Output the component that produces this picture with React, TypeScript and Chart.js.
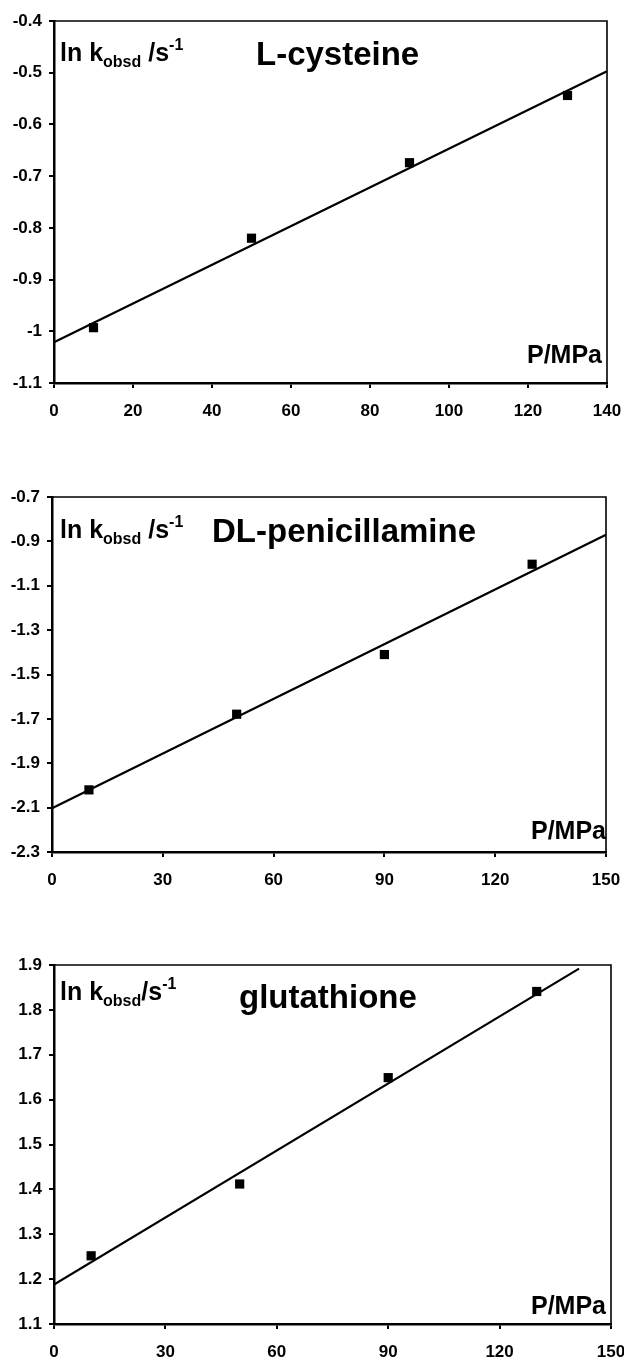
import React, { useEffect, useRef } from 'react';
import { Chart, registerables } from 'chart.js';

Chart.register(...registerables);

// ---- Data ----
const pressureMPa = [10, 50, 90, 130];

const cysteineLnK = [-0.993, -0.82, -0.674, -0.544];
const penicillamineLnK = [-2.02, -1.679, -1.41, -1.003];
const glutathioneLnK = [1.252, 1.412, 1.649, 1.841];

// fitted straight lines (end points)
const cysteineFitP = [0, 140];
const cysteineFitLnK = [-1.021, -0.497];
const penicillamineFitP = [0, 150];
const penicillamineFitLnK = [-2.103, -0.87];
const glutathioneFitP = [0, 141.4];
const glutathioneFitLnK = [1.188, 1.892];

// tick labels
const cysteineXTicks = [0, 20, 40, 60, 80, 100, 120, 140];
const cysteineYTicks = [-1.1, -1, -0.9, -0.8, -0.7, -0.6, -0.5, -0.4];
const penicillamineXTicks = [0, 30, 60, 90, 120, 150];
const penicillamineYTicks = [-2.3, -2.1, -1.9, -1.7, -1.5, -1.3, -1.1, -0.9, -0.7];
const glutathioneXTicks = [0, 30, 60, 90, 120, 150];
const glutathioneYTicks = [1.1, 1.2, 1.3, 1.4, 1.5, 1.6, 1.7, 1.8, 1.9];

const titles = ['L-cysteine', 'DL-penicillamine', 'glutathione'];

const FONT = '"Liberation Sans", Arial, Helvetica, sans-serif';
const CANVAS_W = 660;

type Run = { text: string; size: number; dy?: number };
type TextItem = { x: number; y: number; runs: Run[] };

interface PanelCfg {
  top: number; // page y of plot top
  bottom: number; // page y of plot bottom
  left: number;
  right: number;
  xTicks: number[];
  yTicks: number[];
  values: number[];
  fitP: number[];
  fitLnK: number[];
  texts: TextItem[];
}

const ylabRuns = (space: boolean): Run[] => [
  { text: 'ln k', size: 25 },
  { text: 'obsd', size: 16, dy: 6 },
  { text: space ? ' /s' : '/s', size: 25 },
  { text: '-1', size: 16, dy: -11 },
];

const panels: PanelCfg[] = [
  {
    top: 21, bottom: 383, left: 54, right: 607,
    xTicks: cysteineXTicks, yTicks: cysteineYTicks,
    values: cysteineLnK, fitP: cysteineFitP, fitLnK: cysteineFitLnK,
    texts: [
      { x: 60, y: 61, runs: ylabRuns(true) },
      { x: 256, y: 65, runs: [{ text: titles[0], size: 33 }] },
      { x: 527, y: 363, runs: [{ text: 'P/MPa', size: 25 }] },
    ],
  },
  {
    top: 497, bottom: 852, left: 52, right: 606,
    xTicks: penicillamineXTicks, yTicks: penicillamineYTicks,
    values: penicillamineLnK, fitP: penicillamineFitP, fitLnK: penicillamineFitLnK,
    texts: [
      { x: 60, y: 538, runs: ylabRuns(true) },
      { x: 212, y: 542, runs: [{ text: titles[1], size: 33 }] },
      { x: 531, y: 839, runs: [{ text: 'P/MPa', size: 25 }] },
    ],
  },
  {
    top: 965, bottom: 1324, left: 54, right: 611,
    xTicks: glutathioneXTicks, yTicks: glutathioneYTicks,
    values: glutathioneLnK, fitP: glutathioneFitP, fitLnK: glutathioneFitLnK,
    texts: [
      { x: 60, y: 1000, runs: ylabRuns(false) },
      { x: 239, y: 1008, runs: [{ text: titles[2], size: 33 }] },
      { x: 531, y: 1314, runs: [{ text: 'P/MPa', size: 25 }] },
    ],
  },
];

const PAD_TOP = 21;
const X_AXIS_H = 40;

const decorPlugin = {
  id: 'decor',
  afterDatasetsDraw(chart: any, _args: any, opts: any) {
    const { ctx, chartArea: a } = chart;
    ctx.save();
    ctx.strokeStyle = '#000';
    ctx.lineWidth = 1.6;
    ctx.beginPath();
    ctx.moveTo(a.left, a.top);
    ctx.lineTo(a.right, a.top);
    ctx.lineTo(a.right, a.bottom);
    ctx.stroke();
    ctx.fillStyle = '#000';
    ctx.textBaseline = 'alphabetic';
    ctx.textAlign = 'left';
    const offY: number = opts.offsetY || 0;
    for (const item of (opts.texts || []) as TextItem[]) {
      let cx = item.x;
      for (const r of item.runs) {
        ctx.font = `bold ${r.size}px ${FONT}`;
        ctx.fillText(r.text, cx, item.y - offY + (r.dy || 0));
        cx += ctx.measureText(r.text).width;
      }
    }
    ctx.restore();
  },
};

function Panel({ cfg }: { cfg: PanelCfg }) {
  const ref = useRef<HTMLCanvasElement>(null);
  const canvasTop = cfg.top - PAD_TOP;
  const canvasH = PAD_TOP + (cfg.bottom - cfg.top) + X_AXIS_H;

  useEffect(() => {
    if (!ref.current) return;
    const xT = cfg.xTicks;
    const yT = cfg.yTicks;
    const chart = new Chart(ref.current, {
      type: 'scatter',
      data: {
        datasets: [
          {
            data: pressureMPa.map((p, i) => ({ x: p, y: cfg.values[i] })),
            pointStyle: 'rect',
            pointRadius: 6.5,
            pointBackgroundColor: '#000',
            pointBorderColor: '#000',
            pointBorderWidth: 0,
            showLine: false,
          },
          {
            data: cfg.fitP.map((p, i) => ({ x: p, y: cfg.fitLnK[i] })),
            showLine: true,
            borderColor: '#000',
            borderWidth: 2.2,
            pointRadius: 0,
            fill: false,
          },
        ],
      },
      options: {
        responsive: false,
        animation: false,
        events: [],
        layout: {
          padding: { top: PAD_TOP, left: 0, right: CANVAS_W - cfg.right, bottom: 0 },
        },
        plugins: {
          legend: { display: false },
          tooltip: { enabled: false },
          decor: { texts: cfg.texts, offsetY: canvasTop },
        } as any,
        scales: {
          x: {
            type: 'linear',
            min: xT[0],
            max: xT[xT.length - 1],
            afterBuildTicks: (s: any) => {
              s.ticks = xT.map((v) => ({ value: v }));
            },
            afterFit: (s: any) => {
              s.height = X_AXIS_H;
            },
            ticks: {
              color: '#000',
              font: { family: FONT, size: 17, weight: 'bold' },
              padding: 13,
              maxRotation: 0,
              autoSkip: false,
              callback: (v: any) => String(v),
            },
            grid: { display: true, drawOnChartArea: false, color: '#000', lineWidth: 2, tickLength: 5 },
            border: { display: true, color: '#000', width: 2.5 },
          },
          y: {
            type: 'linear',
            min: yT[0],
            max: yT[yT.length - 1],
            afterBuildTicks: (s: any) => {
              s.ticks = yT.map((v) => ({ value: v }));
            },
            afterFit: (s: any) => {
              s.width = cfg.left;
            },
            ticks: {
              color: '#000',
              font: { family: FONT, size: 17, weight: 'bold' },
              padding: 7,
              autoSkip: false,
              callback: (v: any) => String(v),
            },
            grid: { display: true, drawOnChartArea: false, color: '#000', lineWidth: 2, tickLength: 5 },
            border: { display: true, color: '#000', width: 2.5 },
          },
        },
      },
      plugins: [decorPlugin],
    } as any);
    return () => chart.destroy();
  }, [cfg]);

  return (
    <div style={{ position: 'absolute', left: 0, top: canvasTop, width: CANVAS_W, height: canvasH }}>
      <canvas ref={ref} width={CANVAS_W} height={canvasH} style={{ width: CANVAS_W, height: canvasH, display: 'block' }} />
    </div>
  );
}

export default function App() {
  return (
    <div
      style={{
        position: 'absolute',
        left: 0,
        top: 0,
        width: 624,
        height: 1360,
        overflow: 'hidden',
        background: '#fff',
      }}
    >
      {panels.map((p, i) => (
        <Panel key={i} cfg={p} />
      ))}
    </div>
  );
}
